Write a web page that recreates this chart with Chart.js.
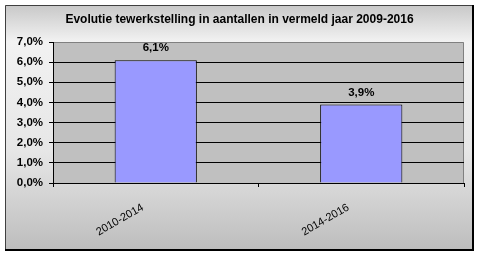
<!DOCTYPE html>
<html>
<head>
<meta charset="utf-8">
<script src="https://cdn.jsdelivr.net/npm/chart.js@4/dist/chart.umd.min.js"></script>
<style>
  html, body { margin: 0; padding: 0; background: #fff; }
  canvas { display: block; }
</style>
</head>
<body>
<canvas id="chart" width="479" height="256"></canvas>
<script>
// ─── Data ───────────────────────────────────────────────────────────────────

const categories = ['2010-2014', '2014-2016'];
const growthPct = [6.1, 3.9];          // in procent
const yMin = 0, yMax = 7, yStep = 1;

const fmtPct = v => v.toFixed(1).replace('.', ',') + '%';
const FONT = '"Liberation Sans", Arial, sans-serif';

// ─── Achtergrond, kader en plotvlak ─────────────────────────────────────────

const frame = {
  id: 'frame',
  beforeDraw(chart) {
    const { ctx, chartArea: a } = chart;
    ctx.save();
    // verloop achtergrond
    const g = ctx.createLinearGradient(0, 5, 0, 250);
    g.addColorStop(0, '#c8c8c8');
    g.addColorStop(0.15, '#f2f2f2');
    g.addColorStop(0.6, '#e6e6e6');
    g.addColorStop(1, '#bdbdbd');
    ctx.fillStyle = g;
    ctx.fillRect(5, 5, 468, 245);
    // kader (dun links/boven, schaduw rechts/onder)
    ctx.strokeStyle = '#404040';
    ctx.lineWidth = 1;
    ctx.beginPath();
    ctx.moveTo(5.5, 250); ctx.lineTo(5.5, 5.5); ctx.lineTo(473, 5.5);
    ctx.stroke();
    ctx.strokeStyle = '#000';
    ctx.lineWidth = 2;
    ctx.beginPath();
    ctx.moveTo(473, 5); ctx.lineTo(473, 250); ctx.lineTo(5, 250);
    ctx.stroke();
    // plotvlak
    ctx.fillStyle = '#c0c0c0';
    ctx.fillRect(a.left, a.top, a.right - a.left, a.bottom - a.top);
    ctx.strokeStyle = '#808080';
    ctx.lineWidth = 1;
    ctx.beginPath();
    ctx.moveTo(a.left, a.top + 0.5);
    ctx.lineTo(a.right - 0.5, a.top + 0.5);
    ctx.lineTo(a.right - 0.5, a.bottom);
    ctx.stroke();
    ctx.restore();
  }
};

// ─── Waardelabels boven de staven ───────────────────────────────────────────

const valueLabels = {
  id: 'valueLabels',
  afterDatasetsDraw(chart) {
    const { ctx } = chart;
    const meta = chart.getDatasetMeta(0);
    ctx.save();
    ctx.font = 'bold 11.5px ' + FONT;
    ctx.fillStyle = '#000';
    ctx.textAlign = 'center';
    ctx.textBaseline = 'middle';
    meta.data.forEach((bar, i) => {
      ctx.fillText(fmtPct(growthPct[i]), bar.x, bar.y - 12);
    });
    ctx.restore();
  }
};

// ─── Grafiek ────────────────────────────────────────────────────────────────

new Chart(document.getElementById('chart'), {
  type: 'bar',
  data: {
    labels: categories,
    datasets: [{
      data: growthPct,
      backgroundColor: '#9999ff',
      borderColor: '#000',
      borderWidth: 1,
      barPercentage: 0.4,
      categoryPercentage: 1,
    }],
  },
  options: {
    responsive: false,
    animation: false,
    devicePixelRatio: 1,
    layout: { padding: { left: 15, right: 15, top: 6, bottom: 6 } },
    plugins: {
      legend: { display: false },
      tooltip: { enabled: false },
      title: {
        display: true,
        text: 'Evolutie tewerkstelling in aantallen in vermeld jaar 2009-2016',
        color: '#000',
        font: { family: FONT, size: 12, weight: 'bold', lineHeight: 1.2 },
        padding: { top: 6, bottom: 15.6 },
      },
    },
    scales: {
      x: {
        offset: true,
        afterFit: s => { s.height = 67; },
        grid: { offset: true, drawOnChartArea: false, color: '#000', tickLength: 4 },
        border: { color: '#000' },
        ticks: {
          color: '#000',
          font: { family: FONT, size: 11 },
          maxRotation: 30, minRotation: 30,
          padding: 14,
          labelOffset: -13,
        },
      },
      y: {
        min: yMin, max: yMax,
        afterFit: s => { s.width = 38; },
        grid: {
          color: c => c.tick.value === yMax ? 'rgba(0,0,0,0)' : '#000',
          tickColor: '#000',
          tickLength: 4,
        },
        border: { color: '#000' },
        ticks: {
          stepSize: yStep,
          color: '#000',
          padding: 6,
          font: { family: FONT, size: 11.5, weight: 'bold' },
          callback: v => fmtPct(v),
        },
      },
    },
  },
  plugins: [frame, valueLabels],
});
</script>
</body>
</html>
